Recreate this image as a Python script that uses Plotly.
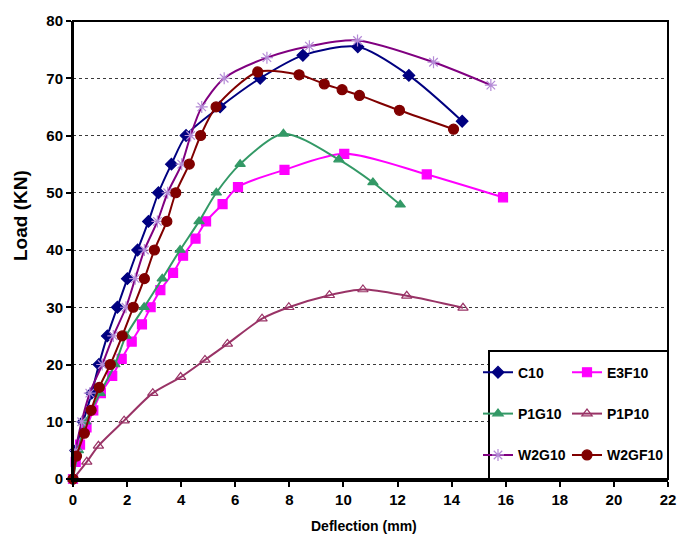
import plotly.graph_objects as go

# Load-deflection data (deflection in mm, load in kN)
C10_x = [0, 0.1, 0.38, 0.69, 0.96, 1.27, 1.64, 2.01, 2.39, 2.79, 3.16, 3.64, 4.18, 5.44, 6.92, 8.5, 10.53, 12.42, 14.39]
C10_y = [0, 5, 10, 15, 20, 25, 30, 35, 40, 45, 50, 55, 60, 65, 70, 74, 75.5, 70.5, 62.5]

E3F10_x = [0, 0.1, 0.26, 0.5, 0.75, 1.03, 1.45, 1.8, 2.17, 2.55, 2.87, 3.23, 3.7, 4.07, 4.53, 4.92, 5.53, 6.1, 7.82, 10.03, 13.08, 15.9]
E3F10_y = [0, 3, 6, 9, 12, 15, 18, 21, 24, 27, 30, 33, 36, 39, 42, 45, 48, 51, 54, 56.8, 53.2, 49.2]

P1G10_x = [0, 0.2, 0.47, 1.0, 1.55, 1.96, 2.63, 3.3, 3.96, 4.66, 5.3, 6.18, 7.78, 9.83, 11.09, 12.1]
P1G10_y = [0, 5, 10, 15, 20, 25, 30, 35, 40, 45, 50, 55, 60.3, 55.8, 51.8, 47.9]

P1P10_x = [0, 0.51, 0.94, 1.89, 2.95, 3.98, 4.88, 5.71, 6.99, 7.98, 9.48, 10.72, 12.34, 14.42]
P1P10_y = [0, 3, 5.8, 10.2, 15, 17.8, 20.8, 23.6, 28, 30, 32.1, 33.1, 32, 29.9]

W2G10_x = [0, 0.1, 0.32, 0.62, 1.08, 1.49, 1.96, 2.3, 2.64, 3.12, 3.5, 4.02, 4.35, 4.76, 5.59, 7.17, 8.74, 10.52, 13.33, 15.45]
W2G10_y = [0, 5, 10, 15, 20, 25, 30, 35, 40, 45, 50, 55, 60, 65, 70, 73.6, 75.6, 76.6, 72.8, 68.8]

W2GF10_x = [0, 0.13, 0.42, 0.67, 0.97, 1.38, 1.82, 2.23, 2.64, 3.01, 3.47, 3.8, 4.3, 4.72, 5.29, 6.83, 8.36, 9.29, 9.95, 10.59, 12.07, 14.07]
W2GF10_y = [0, 4, 8, 12, 16, 20, 25, 30, 35, 40, 45, 50, 55, 60, 65, 71.1, 70.6, 69, 68, 67, 64.4, 61.1]

x_ticks = list(range(0, 23, 2))
y_ticks = list(range(0, 81, 10))

FONT = "Liberation Sans, Arial, sans-serif"

# name, x, y, line colour, marker symbol, marker colour, marker size, legend id
series = [
    ("C10", C10_x, C10_y, "#000080", "diamond", "#000080", 9, "legend"),
    ("E3F10", E3F10_x, E3F10_y, "#FF00FF", "square", "#FF00FF", 9, "legend2"),
    ("P1G10", P1G10_x, P1G10_y, "#339966", "triangle-up", "#339966", 9, "legend3"),
    ("P1P10", P1P10_x, P1P10_y, "#993366", "triangle-up-open", "#993366", 9, "legend4"),
    ("W2G10", W2G10_x, W2G10_y, "#800080", "asterisk-open", "#B48AD6", 10, "legend5"),
    ("W2GF10", W2GF10_x, W2GF10_y, "#800000", "circle", "#800000", 10, "legend6"),
]

fig = go.Figure()
for name, xs, ys, lc, sym, mc, ms, lg in series:
    fig.add_trace(go.Scatter(
        x=xs, y=ys, name=name, mode="lines+markers",
        line=dict(color=lc, width=2, shape="spline", smoothing=0.8),
        marker=dict(symbol=sym, color=mc, size=ms,
                    line=dict(color=mc, width=1.2)),
        cliponaxis=False, legend=lg,
    ))

# plot-area pixel geometry used to place legend entries and titles
L, R, T, B = 73, 25, 14, 64
W, H = 693, 543
pw, ph = W - L - R, H - T - B


def px_x(p):
    return (p - L) / pw


def px_y(p):
    return (H - B - p) / ph


legend_font = dict(family=FONT, size=14, color="black", weight="bold")
col_x = {0: 478, 1: 567}
row_y = {0: 371, 1: 413, 2: 455}
legend_pos = {
    "legend": (0, 0), "legend2": (1, 0),
    "legend3": (0, 1), "legend4": (1, 1),
    "legend5": (0, 2), "legend6": (1, 2),
}
legend_layout = {}
for key, (c, r) in legend_pos.items():
    legend_layout[key] = dict(
        x=px_x(col_x[c]), y=px_y(row_y[r]), xanchor="left", yanchor="middle",
        bgcolor="rgba(0,0,0,0)", borderwidth=0, font=legend_font,
    )

fig.update_layout(
    width=W, height=H,
    margin=dict(l=L, r=R, t=T, b=B),
    paper_bgcolor="white", plot_bgcolor="white",
    showlegend=True,
    **legend_layout,
    xaxis=dict(
        range=[0, 22], tickvals=x_ticks, showgrid=False, zeroline=False,
        showline=True, linecolor="black", linewidth=3,
        ticks="outside", ticklen=5, tickwidth=1.5, tickcolor="black",
        tickfont=dict(family=FONT, size=15, color="black", weight="bold"),
    ),
    yaxis=dict(
        range=[0, 80], tickvals=y_ticks, zeroline=False,
        showgrid=True, gridcolor="#3a3a3a", griddash="dot", gridwidth=1,
        showline=True, linecolor="black", linewidth=2,
        ticks="outside", ticklen=5, tickwidth=1.5, tickcolor="black",
        tickfont=dict(family=FONT, size=15, color="black", weight="bold"),
    ),
    annotations=[
        dict(text="Deflection (mm)", xref="paper", yref="paper",
             x=px_x(364), y=px_y(527), xanchor="center", yanchor="middle",
             showarrow=False,
             font=dict(family=FONT, size=14, color="black", weight="bold")),
        dict(text="Load (KN)", xref="paper", yref="paper",
             x=px_x(20), y=px_y(212), xanchor="center", yanchor="middle",
             showarrow=False, textangle=-90,
             font=dict(family=FONT, size=19, color="black", weight="bold")),
    ],
    shapes=[
        # plot-area frame (top and right edges)
        dict(type="rect", xref="paper", yref="paper", x0=0, y0=0, x1=1, y1=1,
             line=dict(color="black", width=2), fillcolor="rgba(0,0,0,0)", layer="above"),
        # legend box
        dict(type="rect", xref="paper", yref="paper",
             x0=px_x(489), y0=0, x1=1, y1=px_y(349),
             line=dict(color="black", width=2), fillcolor="white", layer="above"),
    ],
)

fig.write_html("out.html")
